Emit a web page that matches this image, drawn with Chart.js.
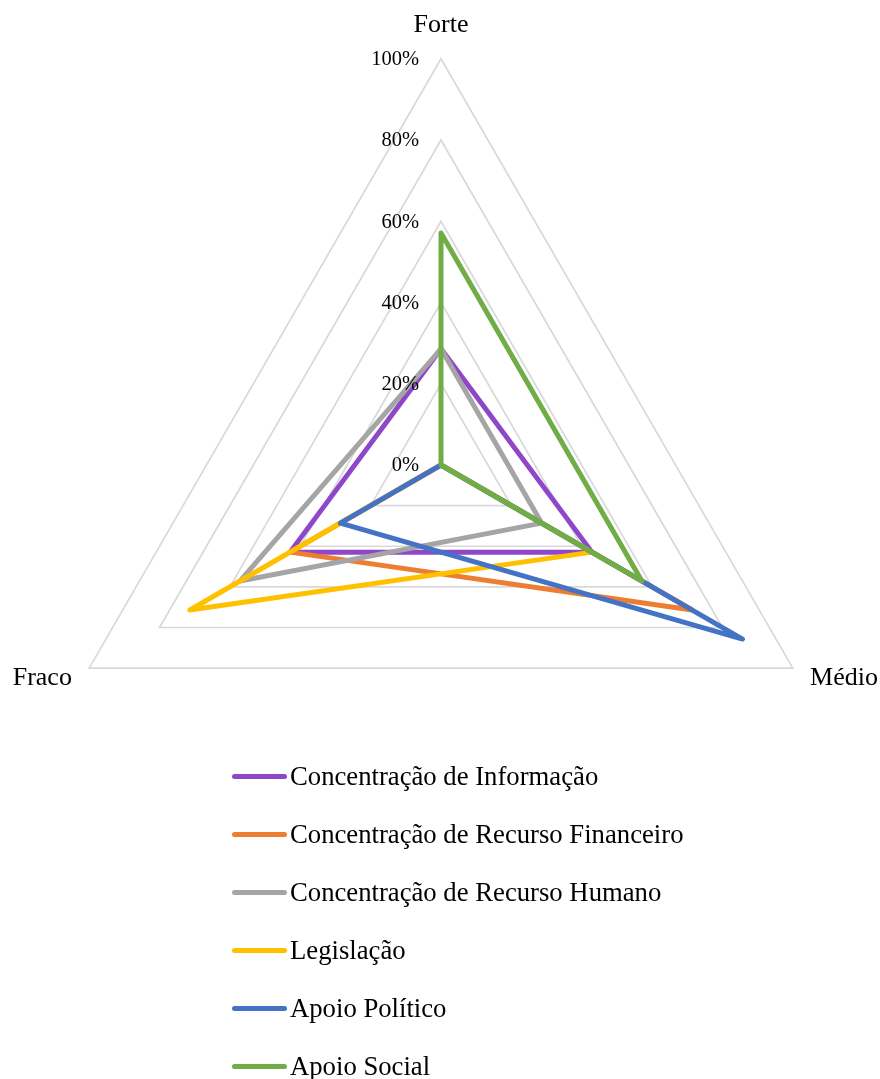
<!DOCTYPE html>
<html>
<head>
<meta charset="utf-8">
<script src="https://cdn.jsdelivr.net/npm/chart.js@4.4.0/dist/chart.umd.min.js"></script>
<style>
  html, body { margin: 0; padding: 0; background: #fff; overflow: hidden; width: 880px; height: 1079px; }
  #wrap { position: absolute; left: 0; top: -10px; width: 892px; height: 950px; }
  #legend { position: absolute; left: 232px; top: 747px; font-family: 'Times New Roman', 'Liberation Serif', serif; font-size: 26.7px; color: #000; }
  .item { display: flex; align-items: center; height: 58px; white-space: nowrap; }
  .swatch { width: 55px; height: 5px; border-radius: 3px; margin-right: 3px; }
</style>
</head>
<body>
<div id="wrap"><canvas id="radar"></canvas></div>
<div id="legend"></div>
<script>
// axes, clockwise from the top
const categories = ['Forte', 'Médio', 'Fraco'];

// series values in %, same order as categories
const informacao = [28.6, 42.9, 42.9];
const recursoFinanceiro = [0, 71.4, 42.9];
const recursoHumano = [28.6, 28.6, 57.1];
const legislacao = [0, 42.9, 71.4];
const apoioPolitico = [0, 85.7, 28.6];
const apoioSocial = [57.1, 57.1, 0];

const seriesNames = [
    'Concentração de Informação',
    'Concentração de Recurso Financeiro',
    'Concentração de Recurso Humano',
    'Legislação',
    'Apoio Político',
    'Apoio Social'
];
const seriesValues = [informacao, recursoFinanceiro, recursoHumano, legislacao, apoioPolitico, apoioSocial];
const seriesColors = ['#8E47C9', '#ED7D31', '#A5A5A5', '#FFC000', '#4472C4', '#70AD47'];

const tickValues = [0, 20, 40, 60, 80, 100];

const serif = "'Times New Roman', 'Liberation Serif', serif";

// tick labels sit left of the vertical axis, like Excel does
const tickLabels = {
    id: 'tickLabels',
    afterDatasetsDraw(chart) {
        const scale = chart.scales.r;
        const ctx = chart.ctx;
        ctx.save();
        ctx.font = '20.5px ' + serif;
        ctx.fillStyle = '#000';
        ctx.textAlign = 'right';
        ctx.textBaseline = 'middle';
        scale.ticks.forEach(t => {
            const p = scale.getPointPositionForValue(0, t.value);
            ctx.fillText(t.label, p.x - 22, p.y + 1);
        });
        ctx.restore();
    }
};

// excel draws the first series at the bottom, so reverse draw order
const datasets = seriesNames.map((name, i) => ({
    label: name,
    data: seriesValues[i],
    borderColor: seriesColors[i],
    backgroundColor: seriesColors[i],
    borderWidth: 5,
    fill: false,
    pointRadius: 0,
    pointHoverRadius: 0,
    borderJoinStyle: 'round',
    borderCapStyle: 'round',
    tension: 0,
    order: seriesNames.length - i
}));

new Chart(document.getElementById('radar'), {
    type: 'radar',
    data: { labels: categories, datasets: datasets },
    options: {
        responsive: true,
        maintainAspectRatio: false,
        animation: false,
        layout: { padding: { left: 10, right: 8, top: 0, bottom: 0 } },
        plugins: {
            legend: { display: false },
            tooltip: { enabled: false }
        },
        scales: {
            r: {
                min: 0,
                max: 100,
                afterBuildTicks: scale => {
                    scale.ticks = tickValues.map(v => ({ value: v }));
                },
                ticks: {
                    display: false,
                    callback: v => v + '%'
                },
                grid: { color: '#D9D9D9', lineWidth: 1.7 },
                angleLines: { display: false },
                pointLabels: {
                    color: '#000',
                    font: { family: serif, size: 26, lineHeight: 0.01 },
                    padding: ctx => [33, 20, 20][ctx.index]
                }
            }
        }
    },
    plugins: [tickLabels]
});

// legend as a plain vertical list, same order as the series
const legend = document.getElementById('legend');
seriesNames.forEach((name, i) => {
    const row = document.createElement('div');
    row.className = 'item';
    const sw = document.createElement('span');
    sw.className = 'swatch';
    sw.style.background = seriesColors[i];
    const txt = document.createElement('span');
    txt.textContent = name;
    row.appendChild(sw);
    row.appendChild(txt);
    legend.appendChild(row);
});
</script>
</body>
</html>
